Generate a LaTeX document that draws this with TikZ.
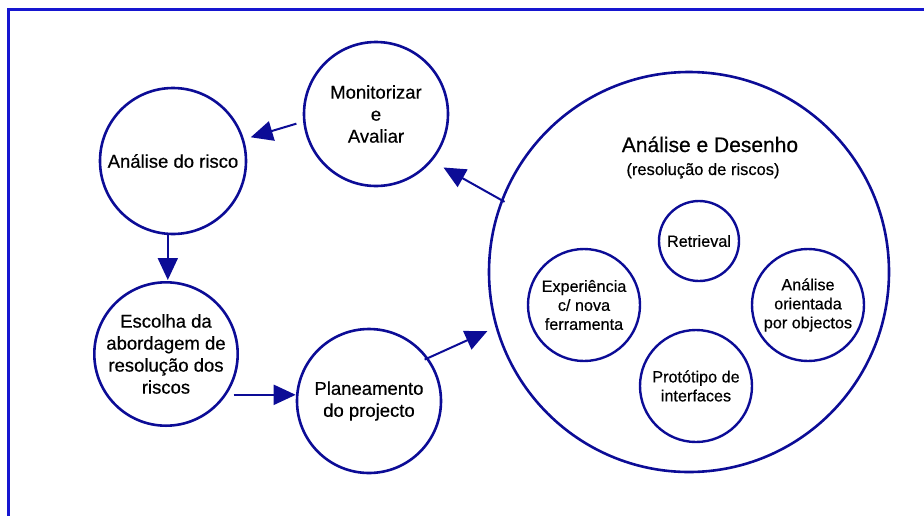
\documentclass[tikz,border=0pt]{standalone}
\usepackage{fontspec}
\setmainfont{Liberation Sans}[FakeBold=0.5]
\usetikzlibrary{arrows.meta}
\definecolor{ringblue}{RGB}{12,12,150}
\definecolor{frameblue}{RGB}{22,22,208}
\begin{document}
\begin{tikzpicture}[x=1pt,y=-1pt,
  stage/.style={circle, draw=ringblue, line width=2.6pt, inner sep=0pt, align=center,
    font=\fontsize{18.5}{22}\selectfont},
  task/.style={circle, draw=ringblue, line width=2.4pt, inner sep=0pt, align=center,
    font=\fontsize{16.2}{19}\selectfont},
  flow/.style={draw=ringblue, line width=2pt, -{Triangle[length=22pt,width=20pt]}}]
\useasboundingbox (0,0) rectangle (924,515);
\clip (0,0) rectangle (924,515);

% outer frame (runs off the right and bottom edges)
\draw[frameblue, line width=2.7pt] (8.8,9.7) rectangle (940,540);

% cycle stages
\node[stage, minimum size=146pt] (ana) at (173,161) {Análise do risco};
\node[stage, minimum size=144pt] (mon) at (376,114) {Monitorizar\\e\\Avaliar};
\node[stage, minimum size=142pt] (esc) at (166,354) {Escolha da\\abordagem de\\resolução dos\\riscos};
\node[stage, minimum size=144pt] (pla) at (369,401) {Planeamento\\do projecto};

% analysis and design phase with its sub-tasks
\node[circle, draw=ringblue, line width=2.6pt, minimum size=400pt, inner sep=0pt] (ad) at (689,272) {};
\node[font=\fontsize{21}{25}\selectfont, anchor=base, inner sep=0pt] (adt) at (710,152) {Análise e Desenho};
\node[font=\fontsize{16.5}{20}\selectfont, anchor=base, inner sep=0pt] (ads) at (703,175) {(resolução de riscos)};
\node[task, minimum size=80pt] (ret) at (699,241) {Retrieval};
\node[task, minimum size=112pt] (exp) at (584,305) {Experiência\\c/ nova\\ferramenta};
\node[task, minimum size=112pt] (ori) at (808,305) {Análise\\orientada\\por objectos};
\node[task, minimum size=112pt] (pro) at (696,386) {Protótipo de\\interfaces};

% flow between stages
\draw[flow, shorten <=7pt, shorten >=7pt] (mon.186) -- (ana.17);
\draw[flow, shorten >=1pt] (ana.266) -- (ana.266 |- esc.north);
\draw[flow, shorten <=7pt] (esc.-34) -- (esc.-34 -| pla.west);
\draw[flow, shorten <=-4pt, shorten >=9pt] (pla.36) -- (ad.196);
\draw[flow, shorten <=-4pt, shorten >=13pt] (ad.159) -- (mon.-40);
\end{tikzpicture}
\end{document}
